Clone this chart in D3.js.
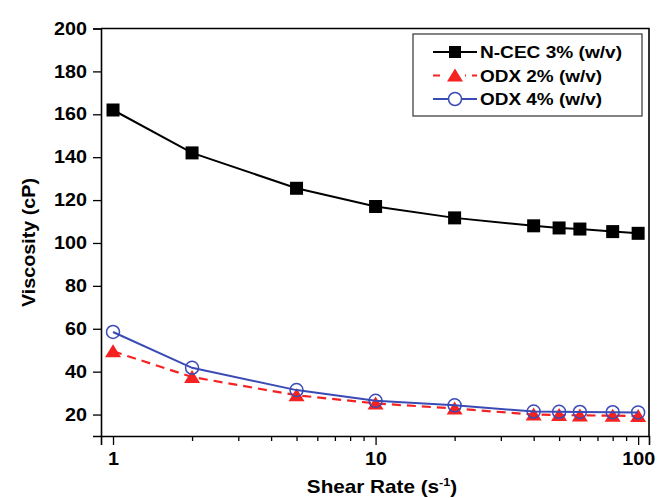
<!DOCTYPE html>
<html>
<head>
<meta charset="utf-8">
<script src="https://cdn.jsdelivr.net/npm/d3@7"></script>
<style>
  body { margin: 0; background: #fff; }
  text { font-family: "Liberation Sans", Arial, sans-serif; font-weight: bold; }
</style>
</head>
<body>
<div id="chart"></div>
<script>
// data
var shearRate = [1, 2, 5, 10, 20, 40, 50, 60, 80, 100];
var ncec3 = [162, 142, 125.5, 117, 111.7, 108, 107, 106.5, 105.3, 104.5];
var odx2 = [49.5, 37.5, 29, 25.2, 22.8, 20, 19.8, 19.6, 19.5, 19.3];
var odx4 = [58.5, 41.8, 31.4, 26.4, 24.3, 21.4, 21.3, 21.2, 21.1, 21.0];
var xMajorTicks = [1, 10, 100];
var xMinorTicks = [2, 3, 4, 5, 6, 7, 8, 9, 20, 30, 40, 50, 60, 70, 80, 90];
var yTicks = [20, 40, 60, 80, 100, 120, 140, 160, 180, 200];
var seriesNames = ["N-CEC 3% (w/v)", "ODX 2% (w/v)", "ODX 4% (w/v)"];

// set the dimensions and margins of the graph
var W = 657, H = 498;
var margin = { top: 28.5, right: 8, bottom: 62, left: 101 },
    width = W - margin.left - margin.right,
    height = H - margin.top - margin.bottom;
var stretch = 1.13; // the reference text is a little wide

var svg = d3.select("#chart")
    .append("svg")
    .attr("width", W)
    .attr("height", H)
    .append("g")
    .attr("transform", "translate(" + margin.left + "," + margin.top + ")");

var x = d3.scaleLog().domain([0.9, 110]).range([0, width]);
var y = d3.scaleLinear().domain([10, 200]).range([height, 0]);

// minor x ticks
svg.append("g")
    .attr("transform", "translate(0," + height + ")")
    .call(d3.axisBottom(x).tickValues(xMinorTicks).tickSize(5).tickFormat(""))
    .call(function (g) { g.select(".domain").remove(); })
    .selectAll("line").attr("stroke", "#000").attr("stroke-width", 1.3);

// major x ticks
var xAxis = svg.append("g")
    .attr("transform", "translate(0," + height + ")")
    .call(d3.axisBottom(x).tickValues(xMajorTicks).tickSize(9).tickPadding(8).tickFormat(d3.format("d")));
xAxis.selectAll("text")
    .attr("font-size", 17.5)
    .attr("fill", "#000")
    .attr("transform", "scale(" + stretch + ",1)");

// y axis
var yAxis = svg.append("g")
    .call(d3.axisLeft(y).tickValues(yTicks).tickSize(8).tickPadding(6));
yAxis.selectAll("text")
    .attr("font-size", 17.5)
    .attr("fill", "#000")
    .attr("x", -14 / stretch)
    .attr("transform", "scale(" + stretch + ",1)");

svg.selectAll(".tick line").attr("stroke", "#000").attr("stroke-width", 1.3);
svg.selectAll(".domain").attr("stroke", "#000").attr("stroke-width", 1.6);

// frame top and right
svg.append("path")
    .attr("d", "M0,0H" + width + "V" + height)
    .attr("fill", "none")
    .attr("stroke", "#000")
    .attr("stroke-width", 1.6);

// axis titles
svg.append("g")
    .attr("transform", "translate(" + (width / 2 + 7) + "," + (493 - margin.top) + ")")
    .append("text")
    .attr("text-anchor", "middle")
    .attr("font-size", 18)
    .attr("transform", "scale(1.15,1)")
    .call(function (t) {
        t.append("tspan").text("Shear Rate (s");
        t.append("tspan").attr("font-size", 11).attr("dy", -7).text("-1");
        t.append("tspan").attr("dy", 7).text(")");
    });

svg.append("text")
    .attr("text-anchor", "middle")
    .attr("transform", "translate(" + (-margin.left + 35) + "," + (242.5 - margin.top) + ") rotate(-90)")
    .attr("font-size", 18)
    .attr("textLength", 129)
    .attr("lengthAdjust", "spacingAndGlyphs")
    .text("Viscosity (cP)");

var line = d3.line()
    .x(function (d) { return x(d[0]); })
    .y(function (d) { return y(d[1]); });

function pairs(vals) { return shearRate.map(function (s, i) { return [s, vals[i]]; }); }

var black = "#000", red = "#f52222", blue = "#3a4bb5";
var tri = "M0,-7L8,6L-8,6Z";

// N-CEC 3%
svg.append("path").datum(pairs(ncec3))
    .attr("fill", "none").attr("stroke", black).attr("stroke-width", 2)
    .attr("d", line);
svg.append("g").selectAll("rect").data(pairs(ncec3)).enter().append("rect")
    .attr("x", function (d) { return x(d[0]) - 6.5; })
    .attr("y", function (d) { return y(d[1]) - 6.5; })
    .attr("width", 13).attr("height", 13)
    .attr("fill", black);

// ODX 2%
svg.append("path").datum(pairs(odx2))
    .attr("fill", "none").attr("stroke", red).attr("stroke-width", 2.2)
    .attr("stroke-dasharray", "9,6")
    .attr("d", line);
svg.append("g").selectAll("path").data(pairs(odx2)).enter().append("path")
    .attr("d", tri)
    .attr("transform", function (d) { return "translate(" + x(d[0]) + "," + y(d[1]) + ")"; })
    .attr("fill", red);

// ODX 4%
svg.append("path").datum(pairs(odx4))
    .attr("fill", "none").attr("stroke", blue).attr("stroke-width", 2)
    .attr("d", line);
svg.append("g").selectAll("circle").data(pairs(odx4)).enter().append("circle")
    .attr("cx", function (d) { return x(d[0]); })
    .attr("cy", function (d) { return y(d[1]); })
    .attr("r", 6.5)
    .attr("fill", "none")
    .attr("stroke", blue)
    .attr("stroke-width", 1.5);

// legend
var legend = svg.append("g")
    .attr("transform", "translate(" + (413 - margin.left) + "," + (34 - margin.top) + ")");
legend.append("rect")
    .attr("width", 229).attr("height", 82)
    .attr("fill", "#fff").attr("stroke", "#333").attr("stroke-width", 1.2);

var legendStyles = [
    { color: black, dash: null, marker: "square" },
    { color: red, dash: "7,6", marker: "tri" },
    { color: blue, dash: null, marker: "circle" }
];
var legendWidths = [142, 122, 122];

seriesNames.forEach(function (name, i) {
    var st = legendStyles[i];
    var row = legend.append("g").attr("transform", "translate(0," + (18 + i * 23.5) + ")");
    row.append("line")
        .attr("x1", 20).attr("x2", 64)
        .attr("stroke", st.color).attr("stroke-width", 2)
        .attr("stroke-dasharray", st.dash);
    if (st.marker === "square") {
        row.append("rect").attr("x", 42 - 6).attr("y", -6).attr("width", 12).attr("height", 12).attr("fill", black);
    } else if (st.marker === "tri") {
        row.append("rect").attr("x", 32).attr("y", -5).attr("width", 20).attr("height", 12).attr("fill", "#fff");
        row.append("path").attr("d", tri).attr("transform", "translate(42,0)").attr("fill", red);
    } else {
        row.append("circle").attr("cx", 42).attr("r", 6.5)
            .attr("fill", "#fff").attr("stroke", blue).attr("stroke-width", 1.5);
    }
    row.append("text")
        .attr("x", 67)
        .attr("y", 6)
        .attr("font-size", 16.5)
        .attr("textLength", legendWidths[i])
        .attr("lengthAdjust", "spacingAndGlyphs")
        .text(name);
});
</script>
</body>
</html>
